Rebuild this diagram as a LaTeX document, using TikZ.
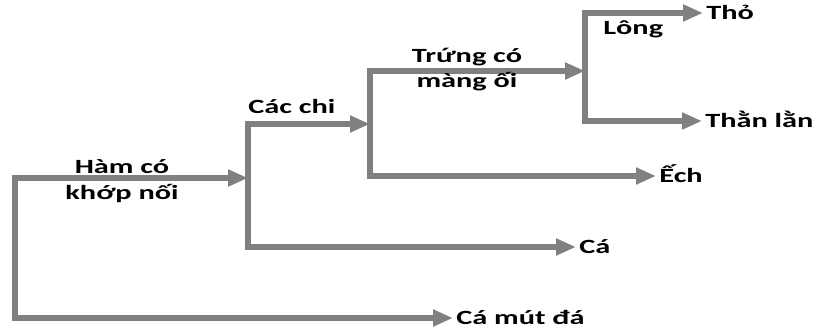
\documentclass[tikz,border=0pt]{standalone}
\usepackage{fontspec}
\setmainfont{Carlito}[FakeStretch=1.5]
\usetikzlibrary{arrows.meta}
\definecolor{branchgray}{RGB}{128,128,128}
\begin{document}
\begin{tikzpicture}[x=0.02cm, y=-0.02cm,
	branch/.style={draw=branchgray, line width=0.12cm, line join=miter, {Triangle[length=0.4cm,width=0.32cm]}-{Triangle[length=0.4cm,width=0.32cm]}},
	taxon/.style={anchor=west, inner sep=0.06cm, text height=8.5pt, text depth=1pt, font=\fontsize{11.5}{12}\selectfont\bfseries},
	trait/.style={inner sep=0pt, align=center, anchor=base, font=\fontsize{11.5}{14.5}\selectfont\bfseries}]
	\useasboundingbox (0,0) rectangle (822,331);

	% taxa
	\node[taxon] (camutda) at (453,318) {Cá mút đá};
	\node[taxon] (ca) at (576,247) {Cá};
	\node[taxon] (ech) at (656,176) {Ếch};
	\node[taxon] (tho) at (703,13) {Thỏ};
	\node[taxon] (thanlan) at (702,121) {Thằn lằn};

	% branch points
	\coordinate (jaws) at (248,178);
	\coordinate (limbs) at (370,124);
	\coordinate (amnion) at (585,71);
	\coordinate (k0) at (15,318);
	\coordinate (k1) at (248,247);
	\coordinate (k2) at (370,176);
	\coordinate (k3) at (585,121);

	\draw[branch] (jaws) -| (k0) |- (camutda);
	\draw[branch] (limbs) -| (k1) |- (ca);
	\draw[branch] (amnion) -| (k2) |- (ech);
	\draw[branch] (tho) -| (k3) |- (thanlan);

	% traits
	\node[trait] (hamco) at (122,199) {Hàm có\\khớp nối};
	\node[trait, anchor=base west] (cacchi) at (248,113) {Các chi};
	\node[trait] (trungco) at (467,88) {Trứng có\\màng ối};
	\node[trait, anchor=base west] (long) at (603,35) {Lông};
\end{tikzpicture}
\end{document}
